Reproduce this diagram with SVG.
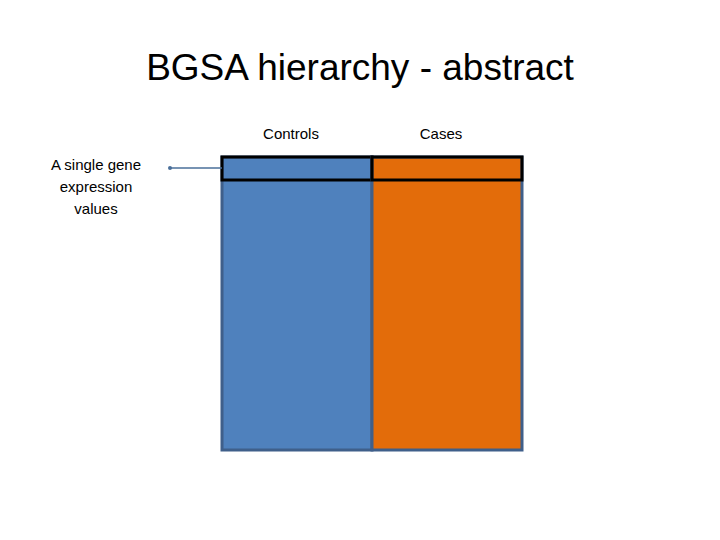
<svg xmlns="http://www.w3.org/2000/svg" width="720" height="540" viewBox="0 0 720 540">
<style>
text{font-family:"Liberation Sans",Calibri,sans-serif;fill:#000}
.lbl{font-size:15px;text-anchor:middle}
.col{stroke:#3f5f8a;stroke-width:3}
.row{fill:none;stroke:#000;stroke-width:3}
</style>
<rect width="720" height="540" fill="#fff"/>
<text x="360" y="80" font-size="37" text-anchor="middle">BGSA hierarchy - abstract</text>
<g id="controls">
<rect class="col" x="222" y="157" width="150" height="293" fill="#4f81bd"/>
<rect class="row" x="222" y="157" width="150" height="23"/>
<text class="lbl" x="291" y="139">Controls</text>
</g>
<g id="cases">
<rect class="col" x="372" y="157" width="150" height="293" fill="#e36c0a"/>
<rect class="row" x="372" y="157" width="150" height="23"/>
<text class="lbl" x="441" y="139">Cases</text>
</g>
<g id="gene-label">
<text class="lbl" x="96" y="170">A single gene</text>
<text class="lbl" x="96" y="192">expression</text>
<text class="lbl" x="96" y="214">values</text>
</g>
<g id="connectors">
<line x1="170" y1="168" x2="222" y2="168" stroke="#4a6f9a" stroke-width="1.5"/>
<circle cx="170" cy="168" r="2" fill="#4a6f9a"/>
</g>
</svg>
